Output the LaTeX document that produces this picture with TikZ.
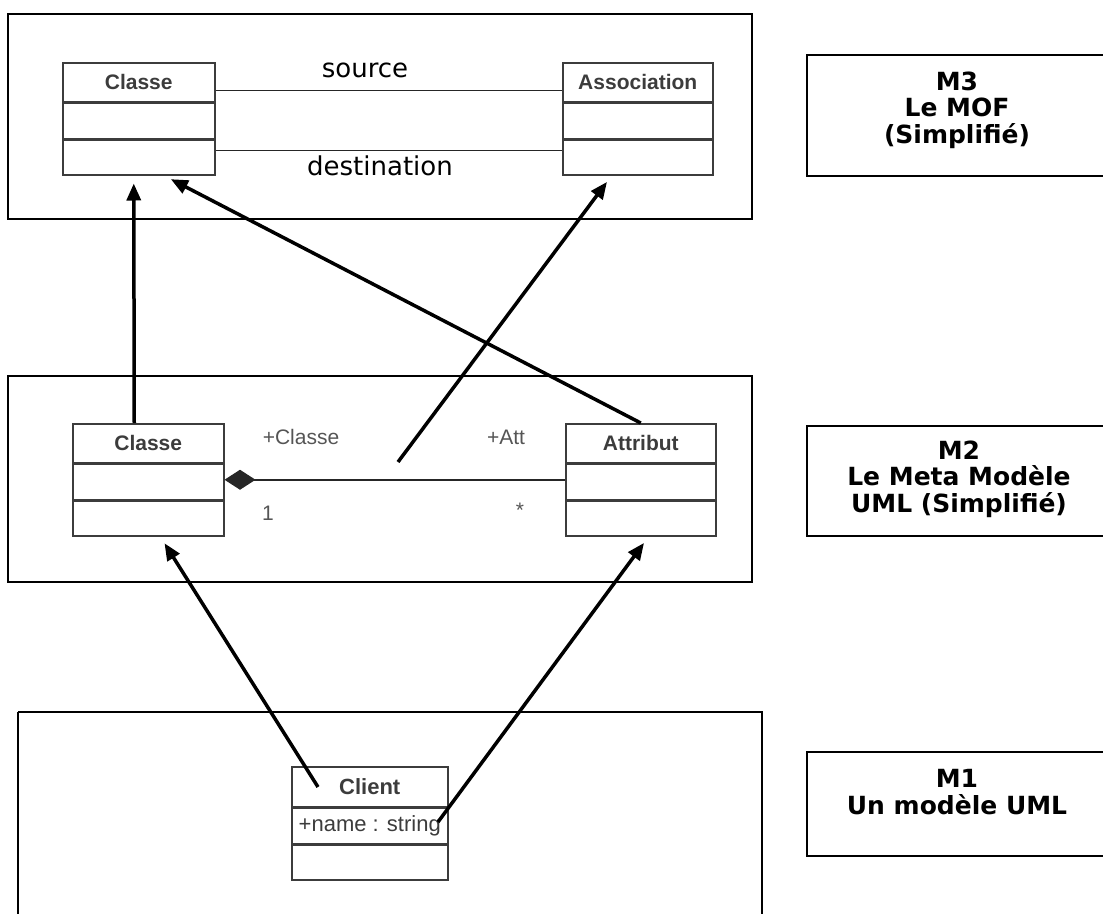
\documentclass[tikz,border=0pt]{standalone}
\usepackage{fontspec}
\setmainfont{DejaVu Sans}
\newfontfamily\umlfont{Liberation Sans}
\usetikzlibrary{arrows.meta,positioning}
\definecolor{umlgray}{RGB}{60,60,60}
\definecolor{rolegray}{RGB}{85,85,85}
\begin{document}
\begin{tikzpicture}[x=1pt,y=-1pt,
  frame/.style={draw=black,line width=2.4pt},
  levelbox/.style={draw=black,line width=2.4pt,minimum width=310pt,anchor=north west,inner sep=0pt},
  leveltext/.style={align=center,font=\fontsize{25}{26.5}\selectfont\bfseries,inner sep=0pt},
  umlhead/.style={draw=umlgray,line width=1.5pt,minimum height=39pt,inner sep=0pt,
    font=\umlfont\fontsize{21}{24}\selectfont\bfseries,text=umlgray},
  umlrow/.style={draw=umlgray,line width=1.5pt,minimum height=35pt,inner sep=0pt},
  umlline/.style={draw=black!85,line width=1.5pt},
  umllabel/.style={font=\umlfont\fontsize{21}{24}\selectfont,text=rolegray},
  assoc/.style={font=\fontsize{26}{30}\selectfont},
  inst/.style={line width=3.5pt,-{Triangle[length=17pt,width=14pt]},shorten >=8pt}
]
\useasboundingbox (0,0) rectangle (1103,913);

% ---------- M3 : the MOF ----------
\draw[frame] (8,14) rectangle (752,219);
\node[umlhead,minimum width=152pt,anchor=north west] (c3) at (62,62) {Classe};
\node[umlrow,minimum width=152pt,below=0pt of c3] (c3a) {};
\node[umlrow,minimum width=152pt,below=0pt of c3a] (c3b) {};
\node[umlhead,minimum width=150pt,anchor=north west] (as3) at (562,62) {Association};
\node[umlrow,minimum width=150pt,below=0pt of as3] (as3a) {};
\node[umlrow,minimum width=150pt,below=0pt of as3a] (as3b) {};
\draw[umlline] ([yshift=-8pt]c3.east) -- ([yshift=-8pt]as3.west);
\draw[umlline] ([yshift=7pt]c3b.east) -- ([yshift=7pt]as3b.west);
\node[assoc] (src) at (365,70) {source};
\node[assoc] (dst) at (380,166) {destination};

% ---------- M2 : the UML metamodel ----------
\draw[frame] (8,376) rectangle (752,582);
\node[umlhead,minimum width=151pt,anchor=north west] (c2) at (72,423) {Classe};
\node[umlrow,minimum width=151pt,below=0pt of c2] (c2a) {};
\node[umlrow,minimum width=151pt,below=0pt of c2a] (c2b) {};
\node[umlhead,minimum width=150pt,anchor=north west] (at2) at (565,423) {Attribut};
\node[umlrow,minimum width=150pt,below=0pt of at2] (at2a) {};
\node[umlrow,minimum width=150pt,below=0pt of at2a] (at2b) {};
\draw[umlline,{Diamond[length=31pt,width=20pt,line width=0pt]}-] ([yshift=2pt]c2a.east) -- ([yshift=2pt]at2a.west);
\node[umllabel] (rc) at (301,437) {+Classe};
\node[umllabel] (ra) at (506,437) {+Att};
\node[umllabel] (m1) at (268,513) {1};
\node[umllabel] (m2) at (520,510) {*};
\coordinate (assocmid) at (398,462);

% ---------- M1 : a UML model ----------
\draw[frame] (18,712) -- (18,925) (18,712) -- (762,712) -- (762,925);
\node[umlhead,minimum width=156pt,minimum height=40pt,anchor=north west,
  font=\umlfont\fontsize{22}{24}\selectfont\bfseries] (cl) at (291,766) {Client};
\node[umlrow,minimum width=156pt,below=0pt of cl,anchor=north,
  font=\umlfont\fontsize{22}{24}\selectfont,text=umlgray] (cla) {+name : string};
\node[umlrow,minimum width=156pt,below=0pt of cla] (clb) {};
\coordinate (clsrc) at (318,787);
\coordinate (attsrc) at (438,822);

% ---------- level captions ----------
\node[levelbox,minimum height=121pt] (l3) at (806,54) {};
\node[leveltext] (t3) at (957,110) {M3\\Le MOF\\(Simplifié)};
\node[levelbox,minimum height=110pt] (l2) at (806,425) {};
\node[leveltext] (t2) at (959,479) {M2\\Le Meta Modèle\\UML (Simplifié)};
\node[levelbox,minimum height=104pt] (l1) at (806,751) {};
\node[leveltext] (t1) at (957,792) {M1\\Un modèle UML};

% ---------- instance-of arrows ----------
\draw[inst] ([xshift=-14pt]c2.north) -- ([xshift=-5pt]c3b.south);
\draw[inst] (at2.north) -- ([xshift=25pt]c3b.south);
\draw[inst] (assocmid) -- ([xshift=-26pt]as3b.south);
\draw[inst] (clsrc) -- ([xshift=12pt]c2b.south);
\draw[inst] (attsrc) -- ([xshift=8pt]at2b.south);
\end{tikzpicture}
\end{document}
